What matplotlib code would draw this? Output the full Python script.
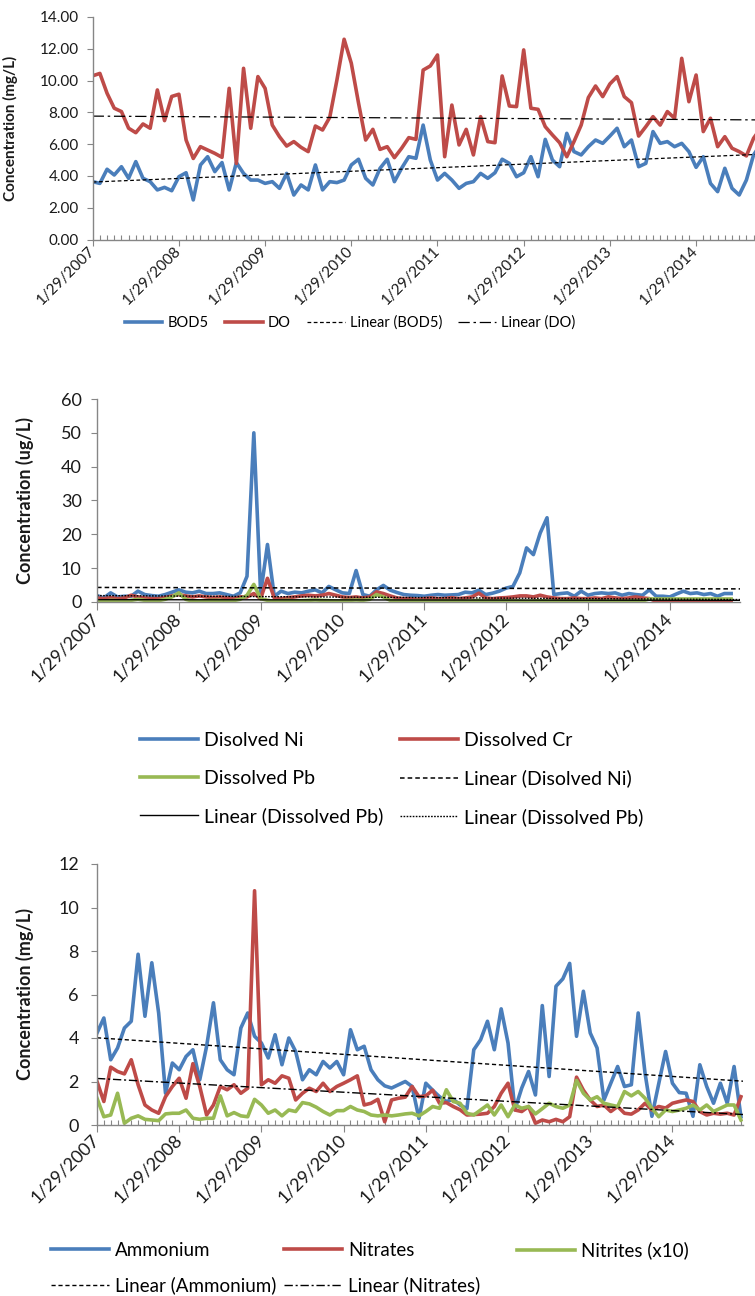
import numpy as np
import matplotlib
matplotlib.use("Agg")
import matplotlib.pyplot as plt
from matplotlib.ticker import FixedLocator, MultipleLocator, FormatStrFormatter

plt.rcParams['font.family'] = ['Lato', 'DejaVu Sans']

W, H = 755, 1296
BLUE = '#4A7EBB'
RED = '#BE4B48'
GREEN = '#98B954'
AXC = '#868686'
TXT = '#1a1a1a'

years = list(range(2007, 2015))
year_labels = ['1/29/%d' % y for y in years]

# --- chart 1: BOD5 / DO, monthly from Jan 2007 (mg/L)
bod5 = [3.64, 3.53, 4.42, 4.06, 4.58, 3.85, 4.9, 3.85, 3.64, 3.12,
        3.28, 3.07, 3.95, 4.2, 2.49, 4.69, 5.21, 4.27, 4.84, 3.12,
        4.84, 4.16, 3.74, 3.74, 3.53, 3.64, 3.22, 4.16, 2.8, 3.43,
        3.12, 4.69, 3.12, 3.64, 3.58, 3.74, 4.69, 5.05, 3.85, 3.43,
        4.48, 5.05, 3.64, 4.48, 5.21, 5.11, 7.2, 5.0, 3.74, 4.16,
        3.74, 3.22, 3.53, 3.64, 4.16, 3.85, 4.2, 5.05, 4.79, 3.95,
        4.2, 5.21, 3.95, 6.3, 5.0, 4.58, 6.68, 5.53, 5.32, 5.84,
        6.26, 6.05, 6.51, 7.0, 5.84, 6.26, 4.58, 4.79, 6.79, 6.05,
        6.16, 5.84, 6.05, 5.53, 4.54, 5.21, 3.53, 3.01, 4.48, 3.22,
        2.8, 3.74, 5.32, 6.0, 6.2]
do = [10.3, 10.45, 9.2, 8.26, 8.05, 7.0, 6.72, 7.27, 7.0, 9.41,
      7.48, 9.0, 9.14, 6.26, 5.1, 5.84, 5.63, 5.42, 5.17, 9.51,
      4.79, 10.77, 7.0, 10.25, 9.51, 7.2, 6.47, 5.88, 6.16, 5.8,
      5.53, 7.14, 6.89, 7.69, 10.04, 12.6, 11.09, 8.6, 6.26, 6.93,
      5.67, 5.84, 5.15, 5.74, 6.41, 6.3, 10.66, 10.92, 11.61, 5.21,
      8.46, 5.95, 6.93, 5.32, 7.73, 6.16, 6.09, 10.29, 8.4, 8.36,
      11.93, 8.26, 8.19, 7.1, 6.58, 6.09, 5.21, 6.16, 7.2, 8.93,
      9.66, 8.99, 9.79, 10.25, 8.99, 8.61, 6.51, 7.1, 7.73, 7.2,
      8.05, 7.63, 11.4, 8.67, 10.35, 6.79, 7.63, 5.84, 6.47, 5.74,
      5.53, 5.26, 6.37, 7.0, 6.8]

# --- chart 2: dissolved metals (ug/L)
ni = [1.9, 1.2, 2.7, 1.5, 1.7, 1.7, 3.2, 2.2, 1.9, 1.7,
      2.2, 2.9, 3.6, 2.9, 2.7, 3.2, 2.5, 2.5, 2.7, 2.2,
      1.7, 2.7, 7.6, 50.0, 2.5, 17.0, 1.7, 3.2, 2.5, 2.9,
      2.7, 3.2, 3.6, 2.7, 4.6, 3.6, 2.7, 2.5, 9.3, 2.2,
      1.7, 3.6, 4.9, 3.5, 2.8, 2.2, 2.0, 1.9, 1.7, 2.0,
      2.2, 2.0, 2.1, 2.2, 2.9, 2.7, 3.5, 2.2, 2.6, 3.2,
      4.1, 4.6, 8.6, 16.0, 14.0, 20.4, 24.9, 2.2, 2.5, 2.7,
      1.7, 3.2, 2.0, 2.5, 2.7, 2.5, 2.7, 2.0, 2.5, 2.2,
      2.0, 3.6, 1.7, 1.7, 1.5, 2.4, 3.2, 2.5, 2.7, 2.2,
      2.5, 1.7, 2.5, 2.5]
cr = [1.2, 1.0, 1.3, 1.0, 1.2, 2.0, 1.5, 1.2, 1.0, 1.0,
      1.3, 1.8, 2.2, 1.8, 1.5, 1.8, 1.5, 1.3, 1.5, 1.2,
      1.0, 1.5, 1.5, 2.5, 1.0, 7.0, 1.2, 1.0, 1.3, 1.5,
      1.8, 2.0, 1.8, 2.0, 2.5, 2.0, 1.5, 1.3, 1.5, 1.2,
      1.5, 3.0, 2.5, 1.8, 1.2, 1.0, 1.0, 0.8, 1.0, 1.2,
      1.0, 1.0, 1.3, 1.0, 1.2, 1.5, 2.6, 1.2, 1.0, 1.2,
      1.3, 1.5, 1.8, 1.8, 1.5, 2.0, 1.5, 1.2, 1.0, 1.0,
      1.2, 1.0, 1.0, 1.2, 1.0, 1.5, 1.2, 1.0, 1.2, 1.5,
      1.2, 1.0, 0.2, 0.15, 0.15, 0.2, 0.15, 0.15, 0.2, 0.15,
      0.15, 0.2, 0.15, 0.15]
pb = [0.3, 0.2, 0.5, 0.4, 0.3, 0.5, 0.8, 0.5, 0.3, 0.4,
      0.8, 1.5, 2.7, 0.8, 0.3, 0.2, 0.4, 0.5, 0.5, 0.3,
      0.4, 0.8, 2.0, 5.2, 1.0, 0.5, 0.2, 0.4, 0.5, 0.3,
      0.4, 0.5, 0.6, 0.5, 0.4, 0.3, 0.4, 0.5, 0.6, 0.5,
      0.8, 2.2, 1.5, 0.5, 0.3, 0.2, 0.3, 0.4, 0.3, 0.2,
      0.3, 0.4, 0.3, 0.3, 0.2, 0.3, 0.5, 0.3, 0.2, 0.3,
      0.4, 0.3, 0.3, 0.2, 0.3, 0.4, 0.3, 0.2, 0.3, 0.3,
      0.2, 0.3, 0.4, 0.3, 0.2, 0.3, 0.3, 0.2, 0.3, 0.4,
      0.3, 0.9, 0.9, 0.9, 0.9, 0.9, 0.9, 0.9, 0.9, 0.9,
      0.9, 0.9, 0.9, 0.9]

# --- chart 3: nitrogen species (mg/L)
ammonium = [4.23, 4.92, 3.0, 3.54, 4.46, 4.77, 7.85, 5.0, 7.46, 5.15,
            1.46, 2.85, 2.54, 3.15, 3.46, 2.08, 3.62, 5.62, 3.0, 2.54,
            2.31, 4.46, 5.15, 4.08, 3.77, 3.08, 4.15, 2.77, 4.0, 3.38,
            2.08, 2.54, 2.31, 2.92, 2.62, 2.92, 2.31, 4.38, 3.46, 3.62,
            2.54, 2.08, 1.8, 1.7, 1.85, 2.0, 1.77, 0.3, 1.92, 1.6,
            1.3, 1.08, 1.18, 0.92, 0.75, 3.46, 3.92, 4.77, 3.46, 5.34,
            3.77, 0.7, 1.7, 2.46, 1.38, 5.49, 2.23, 6.38, 6.72, 7.43,
            4.08, 6.15, 4.23, 3.54, 1.15, 1.92, 2.69, 1.77, 1.85, 5.15,
            2.38, 0.4, 1.9, 3.38, 1.92, 1.49, 1.46, 0.4, 2.77, 1.77,
            1.0, 1.92, 1.0, 2.69, 0.38]
nitrates = [2.0, 1.08, 2.66, 2.46, 2.35, 3.0, 1.85, 0.92, 0.69, 0.54,
            1.3, 1.77, 2.15, 1.23, 2.82, 1.77, 0.46, 0.92, 1.77, 1.62,
            1.85, 1.46, 1.69, 10.77, 1.85, 2.08, 1.92, 2.26, 2.15, 1.15,
            1.46, 1.69, 1.54, 1.92, 1.54, 1.77, 1.92, 2.08, 2.26, 0.92,
            1.0, 1.18, 0.15, 1.15, 1.23, 1.28, 1.77, 1.3, 1.34, 1.6,
            1.0, 1.03, 0.85, 0.7, 0.46, 0.48, 0.5, 0.54, 0.85, 1.46,
            1.92, 0.69, 0.62, 0.85, 0.08, 0.23, 0.15, 0.26, 0.15, 0.38,
            2.2, 1.6, 1.15, 0.85, 0.92, 0.62, 0.85, 0.54, 0.5, 0.69,
            1.0, 0.69, 0.85, 0.78, 1.0, 1.08, 1.15, 1.08, 0.62, 0.46,
            0.54, 0.5, 0.54, 0.46, 1.3]
nitrites_x10 = [1.23, 0.38, 0.46, 1.46, 0.08, 0.31, 0.42, 0.26, 0.23, 0.2,
                0.51, 0.54, 0.54, 0.69, 0.31, 0.26, 0.31, 0.31, 1.34, 0.42,
                0.57, 0.42, 0.38, 1.18, 0.92, 0.54, 0.69, 0.42, 0.69, 0.62,
                1.03, 0.97, 0.82, 0.62, 0.46, 0.66, 0.66, 0.85, 0.69, 0.62,
                0.46, 0.42, 0.46, 0.42, 0.46, 0.51, 0.54, 0.42, 0.62, 0.85,
                0.77, 1.62, 1.08, 1.0, 0.54, 0.46, 0.69, 0.92, 0.46, 0.92,
                0.38, 0.92, 0.77, 0.85, 0.51, 0.75, 1.0, 0.85, 0.77, 0.92,
                2.05, 1.46, 1.15, 1.3, 1.0, 0.92, 0.85, 1.54, 1.34, 1.54,
                1.23, 0.77, 0.38, 0.69, 0.62, 0.69, 0.77, 0.92, 0.69, 0.92,
                0.62, 0.77, 0.92, 0.92, 0.23]


def fit(y):
    y = np.asarray(y, float)
    x = np.arange(len(y))
    return np.polyfit(x, y, 1)


def px_axes(fig, left, right, top, bottom):
    return fig.add_axes([left / W, 1 - bottom / H, (right - left) / W, (bottom - top) / H])


def style(ax, fs, minor, xpad, ypad, majlen):
    for s in ['top', 'right']:
        ax.spines[s].set_visible(False)
    for s in ['left', 'bottom']:
        ax.spines[s].set_color(AXC)
        ax.spines[s].set_linewidth(1.0)
    ax.xaxis.set_major_locator(FixedLocator([12 * i for i in range(len(years))]))
    ax.set_xticklabels(year_labels, rotation=45, ha='right', va='center',
                       rotation_mode='anchor', fontsize=fs, color=TXT)
    if minor:
        ax.xaxis.set_minor_locator(MultipleLocator(1))
        ax.tick_params(axis='x', which='minor', direction='in', length=3.5,
                       color=AXC, width=0.8)
    ax.tick_params(axis='x', which='major', direction='out', length=majlen,
                   color=AXC, pad=xpad)
    ax.tick_params(axis='y', direction='out', length=4, color=AXC,
                   labelsize=fs, labelcolor=TXT, pad=ypad)


fig = plt.figure(figsize=(W / 100, H / 100), dpi=100)
LW = 2.6

# ---------------- chart 1
ax1 = px_axes(fig, 92.7, 755, 17, 239.5)
x1 = np.arange(len(do))
h_bod, = ax1.plot(x1, bod5, color=BLUE, lw=LW, label='BOD5')
h_do, = ax1.plot(x1, do, color=RED, lw=LW, label='DO')
xx = np.array([0, len(do) - 1])
h_lb, = ax1.plot(xx, np.polyval(fit(bod5), xx), color='black', lw=0.9,
                 ls=(0, (3, 2)), label='Linear (BOD5)')
h_ld, = ax1.plot(xx, np.polyval(fit(do), xx), color='black', lw=0.9,
                 ls=(0, (9, 3, 2, 3)), label='Linear (DO)')
ax1.set_xlim(0, 92.2)
ax1.set_ylim(0, 14)
ax1.yaxis.set_major_locator(MultipleLocator(2))
ax1.yaxis.set_major_formatter(FormatStrFormatter('%.2f'))
style(ax1, 11, True, 3, 6, 4)
ax1.set_ylabel('Concentration (mg/L)', fontsize=11, fontweight='bold', color=TXT)
ax1.yaxis.set_label_coords((18 - 92.7) / (755 - 92.7), 0.5)
fig.legend(handles=[h_bod, h_do, h_lb, h_ld], loc='center',
           bbox_to_anchor=(350 / W, 1 - 323 / H), ncol=4, frameon=False,
           fontsize=10.5, handlelength=2.6, handletextpad=0.35,
           columnspacing=1.1, borderpad=0)

# ---------------- chart 2
ax2 = px_axes(fig, 97, 740, 399, 602)
x2 = np.arange(len(ni))
h_ni, = ax2.plot(x2, ni, color=BLUE, lw=LW, label='Disolved Ni')
h_cr, = ax2.plot(x2, cr, color=RED, lw=LW, label='Dissolved Cr')
h_pb, = ax2.plot(x2, pb, color=GREEN, lw=LW, label='Dissolved Pb')
xx2 = np.array([0, 94.3])
h_lni, = ax2.plot(xx2, np.polyval(fit(ni), xx2), color='black', lw=1.1,
                  ls=(0, (3, 2)), label='Linear (Disolved Ni)')
h_lpb, = ax2.plot(xx2, np.polyval(fit(pb), xx2), color='black', lw=1.0,
                  label='Linear (Dissolved Pb)')
h_lcr, = ax2.plot(xx2, np.polyval(fit(cr), xx2), color='black', lw=1.0,
                  ls=(0, (1.2, 1)), label='Linear (Dissolved Pb)')
ax2.set_xlim(0, 94.3)
ax2.set_ylim(0, 60)
ax2.yaxis.set_major_locator(MultipleLocator(10))
style(ax2, 13, False, 4, 7, 6)
ax2.set_ylabel('Concentration (ug/L)', fontsize=13, fontweight='bold', color=TXT)
ax2.yaxis.set_label_coords((34 - 97) / (740 - 97), 0.5)

# ---------------- chart 3
ax3 = px_axes(fig, 97, 743, 864, 1125)
x3 = np.arange(len(ammonium))
h_am, = ax3.plot(x3, ammonium, color=BLUE, lw=LW, label='Ammonium')
h_na, = ax3.plot(x3, nitrates, color=RED, lw=LW, label='Nitrates')
h_ni2, = ax3.plot(x3, nitrites_x10, color=GREEN, lw=LW, label='Nitrites (x10)')
xx3 = np.array([0, 94.3])
h_lam, = ax3.plot(xx3, np.polyval(fit(ammonium), xx3), color='black', lw=1.0,
                  ls=(0, (3, 2)), label='Linear (Ammonium)')
h_lna, = ax3.plot(xx3, np.polyval(fit(nitrates), xx3), color='black', lw=1.0,
                  ls=(0, (6, 2, 1.5, 2)), label='Linear (Nitrates)')
ax3.set_xlim(0, 94.3)
ax3.set_ylim(0, 12)
ax3.yaxis.set_major_locator(MultipleLocator(2))
style(ax3, 13, True, 4, 9, 5)
ax3.set_ylabel('Concentration (mg/L)', fontsize=13, fontweight='bold', color=TXT)
ax3.yaxis.set_label_coords((34 - 97) / (743 - 97), 0.5)


def column_legend(handles, x, row1, fs, hl, ls):
    fig.legend(handles=handles, loc='upper left',
               bbox_to_anchor=(x / W, 1 - (row1 - 0.45 * fs * 100 / 72) / H),
               frameon=False, fontsize=fs, handlelength=hl, handletextpad=0.3,
               labelspacing=ls, borderpad=0, borderaxespad=0)


column_legend([h_ni, h_pb, h_lpb], 140, 741, 14, 3.0, 1.05)
column_legend([h_cr, h_lni, h_lcr], 400, 741, 14, 3.0, 1.05)
column_legend([h_am, h_lam], 51, 1250, 13.5, 3.1, 0.95)
column_legend([h_na, h_lna], 284, 1250, 13.5, 3.1, 0.95)
column_legend([h_ni2], 517, 1250, 13.5, 3.1, 0.95)

fig.savefig('out.png', dpi=100)
